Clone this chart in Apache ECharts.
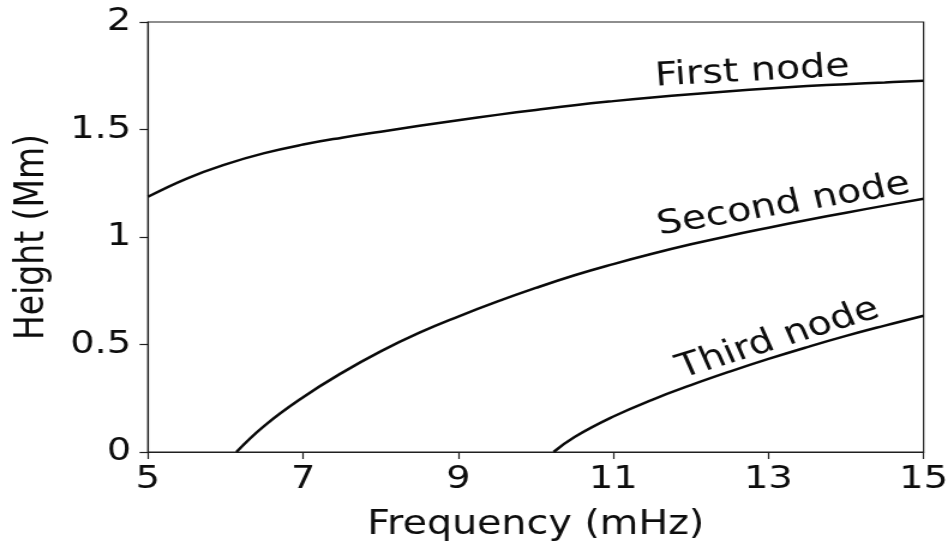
<!DOCTYPE html>
<html>
<head>
<meta charset="utf-8">
<script src="https://cdn.jsdelivr.net/npm/echarts@6/dist/echarts.min.js"></script>
<style>
  html, body { margin: 0; padding: 0; background: #fff; overflow: hidden; }
  /* the figure is laid out narrow and widened to fill the 952px window */
  #chart { width: 793px; height: 548px; transform: scaleX(1.2); transform-origin: 0 0; }
</style>
</head>
<body>
<div id="chart"></div>
<script>
// Node heights versus frequency
var xTicks = [5, 7, 9, 11, 13, 15];
var yTicks = [0, 0.5, 1, 1.5, 2];

var firstNodeFreq = [5, 5.5, 6, 6.5, 7, 7.5, 8, 8.5, 9, 9.5, 10, 10.5, 11, 11.5, 12, 12.5, 13, 13.5, 14, 14.5, 15];
var firstNodeHeight = [1.187, 1.272, 1.338, 1.39, 1.43, 1.462, 1.49, 1.517, 1.543, 1.568, 1.591, 1.613, 1.632, 1.649, 1.664, 1.678, 1.691, 1.702, 1.711, 1.719, 1.727];

var secondNodeFreq = [6.14, 6.5, 7, 7.5, 8, 8.5, 9, 9.5, 10, 10.5, 11, 11.5, 12, 12.5, 13, 13.5, 14, 14.5, 15];
var secondNodeHeight = [0, 0.122, 0.255, 0.368, 0.468, 0.555, 0.63, 0.699, 0.763, 0.822, 0.874, 0.922, 0.966, 1.006, 1.043, 1.079, 1.113, 1.146, 1.178];

var thirdNodeFreq = [10.23, 10.5, 11, 11.5, 12, 12.5, 13, 13.5, 14, 14.5, 15];
var thirdNodeHeight = [0, 0.07, 0.165, 0.243, 0.311, 0.374, 0.433, 0.488, 0.54, 0.588, 0.634];

var curveNames = ['First node', 'Second node', 'Third node'];

function pairs(xs, ys) {
  return xs.map(function (x, i) { return [x, ys[i]]; });
}

var FONT = 'DejaVu Sans';
var TEXT = '#0d0d0d';
var AXIS = '#1f1f1f';

function curve(name, xs, ys) {
  return {
    name: name,
    type: 'line',
    data: pairs(xs, ys),
    showSymbol: false,
    smooth: 0.45,
    clip: true,
    lineStyle: { color: '#0a0a0a', width: 2.5 },
    emphasis: { disabled: true }
  };
}

function curveLabel(text, x, y, deg) {
  return {
    type: 'text',
    x: x, y: y,
    rotation: deg * Math.PI / 180,
    silent: true,
    style: {
      text: text,
      fill: TEXT,
      font: '33px "' + FONT + '"',
      fontSize: 33,
      fontFamily: FONT,
      align: 'center',
      verticalAlign: 'middle',
      textAlign: 'center',
      textVerticalAlign: 'middle'
    }
  };
}

var chart = echarts.init(document.getElementById('chart'), null, { renderer: 'canvas' });

chart.setOption({
  animation: false,
  backgroundColor: '#fff',
  grid: {
    left: 123.3, right: 21.6, top: 22, bottom: 96,
    show: true, borderColor: AXIS, borderWidth: 1.2, backgroundColor: 'transparent'
  },
  xAxis: {
    type: 'value',
    min: xTicks[0], max: xTicks[xTicks.length - 1], interval: xTicks[1] - xTicks[0],
    name: 'Frequency (mHz)',
    nameLocation: 'middle',
    nameGap: 57,
    nameTextStyle: { fontFamily: FONT, fontSize: 33, color: TEXT },
    axisLine: { show: true, onZero: false, lineStyle: { color: AXIS, width: 1.2 } },
    axisTick: { show: true, inside: false, length: 7, lineStyle: { color: AXIS, width: 1.2 } },
    axisLabel: { fontFamily: FONT, fontSize: 32, color: TEXT, margin: 12 },
    splitLine: { show: false }
  },
  yAxis: {
    type: 'value',
    min: yTicks[0], max: yTicks[yTicks.length - 1], interval: yTicks[1] - yTicks[0],
    name: 'Height (Mm)',
    nameLocation: 'middle',
    nameGap: 79,
    nameTextStyle: { fontFamily: FONT, fontSize: 33, color: TEXT },
    axisLine: { show: true, onZero: false, lineStyle: { color: AXIS, width: 1.2 } },
    axisTick: { show: true, inside: false, length: 7, lineStyle: { color: AXIS, width: 1.2 } },
    axisLabel: { fontFamily: FONT, fontSize: 32, color: TEXT, margin: 14 },
    splitLine: { show: false }
  },
  series: [
    curve(curveNames[0], firstNodeFreq, firstNodeHeight),
    curve(curveNames[1], secondNodeFreq, secondNodeHeight),
    curve(curveNames[2], thirdNodeFreq, thirdNodeHeight)
  ],
  graphic: [
    curveLabel(curveNames[0], 627, 72, 3.6),
    curveLabel(curveNames[1], 653, 205, 11.4),
    curveLabel(curveNames[2], 648.5, 339, 20.5)
  ]
});
</script>
</body>
</html>
